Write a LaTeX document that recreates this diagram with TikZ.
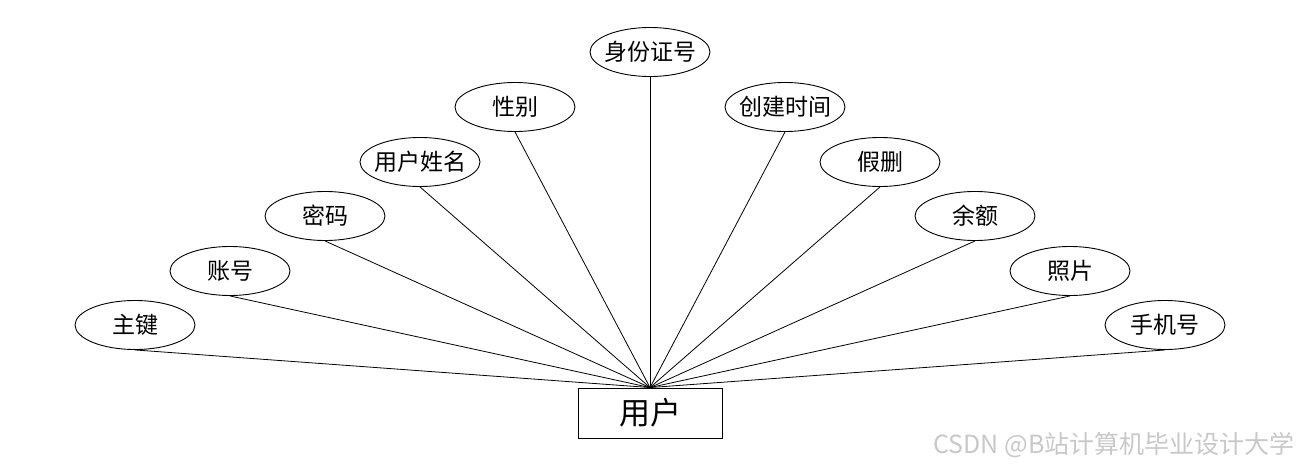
\documentclass[tikz,border=0pt]{standalone}
\usepackage{fontspec}
\usepackage{tikz}
\usetikzlibrary{shapes.geometric, positioning}
\newfontfamily\cjk{Noto Sans CJK SC}
\definecolor{markgray}{RGB}{200, 200, 200}

\begin{document}
\begin{tikzpicture}[
    x=1pt, y=-1pt,
    attr/.style={ellipse, draw=black, line width=0.9pt, minimum width=120pt, minimum height=49pt, inner sep=0pt, font=\cjk\fontsize{23}{25}\selectfont,
        execute at begin node={\hbox to 0pt\bgroup\hss}, execute at end node={\hss\egroup}},
    entity/.style={rectangle, draw=black, line width=0.9pt, minimum width=144pt, minimum height=50pt, font=\cjk\fontsize{31}{34}\selectfont},
    link/.style={line width=0.8pt, black}
]
\useasboundingbox (0,0) rectangle (1300,468);

\node[entity] (user) at (650,413) {用户};

% attributes
\node[attr] (pk) at (135,325) {主键};
\node[attr] (acct) at (230,271) {账号};
\node[attr] (pwd) at (325,216) {密码};
\node[attr] (uname) at (420,162) {用户姓名};
\node[attr] (sex) at (515,107) {性别};
\node[attr] (idno) at (650,52) {身份证号};
\node[attr] (ctime) at (785,107) {创建时间};
\node[attr] (fdel) at (880,162) {假删};
\node[attr] (bal) at (975,216) {余额};
\node[attr] (photo) at (1070,271) {照片};
\node[attr] (phone) at (1165,325) {手机号};

\draw[link] (pk.south) -- (user.north);
\draw[link] (acct.south) -- (user.north);
\draw[link] (pwd.south) -- (user.north);
\draw[link] (uname.south) -- (user.north);
\draw[link] (sex.south) -- (user.north);
\draw[link] (idno.south) -- (user.north);
\draw[link] (ctime.south) -- (user.north);
\draw[link] (fdel.south) -- (user.north);
\draw[link] (bal.south) -- (user.north);
\draw[link] (photo.south) -- (user.north);
\draw[link] (phone.south) -- (user.north);

\node[anchor=east, text=markgray, font=\cjk\fontsize{25}{27}\selectfont] (mark) at (1298,445) {CSDN @B站计算机毕业设计大学};

\end{tikzpicture}
\end{document}
